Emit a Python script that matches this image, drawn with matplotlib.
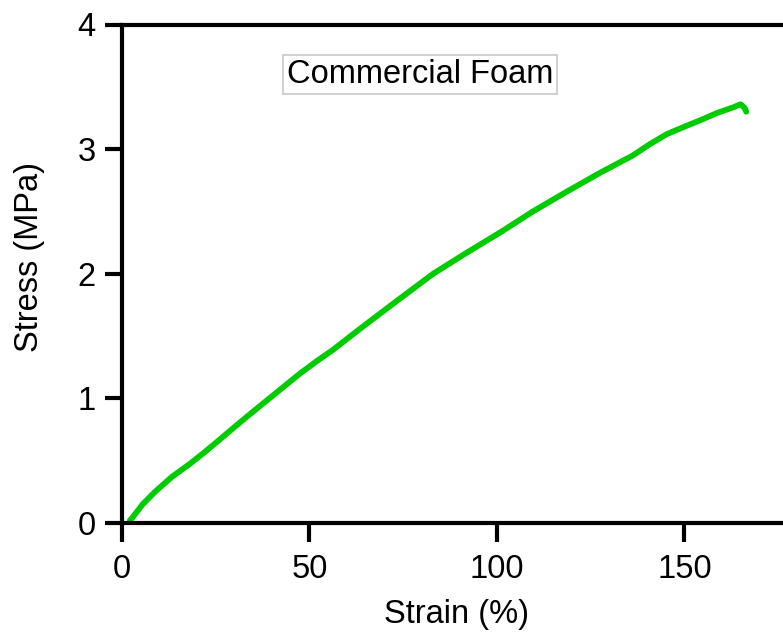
import matplotlib
matplotlib.use("Agg")
import matplotlib.pyplot as plt

plt.rcParams['font.family'] = ['Liberation Sans', 'DejaVu Sans']

# Stress-strain curve of the commercial foam sample
strain = [2.1, 2.7, 5.5, 8.8, 13.3, 17.9, 22.1, 26.1, 29.6, 34.0, 38.7, 43.0,
          47.5, 52.0, 56.3, 62.7, 65.3, 74.1, 83.0, 92.0, 100.8, 109.6, 118.7,
          127.5, 136.3, 140.8, 145.3, 150.0, 154.1, 158.7, 163.0, 165.0,
          166.1, 166.5]
stress = [0.02, 0.04, 0.15, 0.25, 0.37, 0.47, 0.57, 0.67, 0.76, 0.87, 0.985,
          1.09, 1.20, 1.30, 1.39, 1.54, 1.60, 1.80, 2.00, 2.17, 2.33, 2.50,
          2.66, 2.81, 2.95, 3.04, 3.12, 3.18, 3.23, 3.29, 3.335, 3.36, 3.33,
          3.30]

x_ticks = [0, 50, 100, 150]
y_ticks = [0, 1, 2, 3, 4]
title = "Commercial Foam"

fig = plt.figure(figsize=(7.83, 6.37), dpi=100)
ax = fig.add_axes([122 / 783, 114 / 637, 661 / 783, (523 - 24.5) / 637])

ax.plot(strain, stress, color='#00cc00', lw=4.2, solid_capstyle='round',
        solid_joinstyle='round')

ax.set_xlim(0, 176.3)
ax.set_ylim(0, 4)
ax.set_xticks(x_ticks)
ax.set_yticks(y_ticks)

for side in ('left', 'bottom', 'top'):
    ax.spines[side].set_linewidth(3.0)
ax.spines['right'].set_visible(False)

ax.tick_params(axis='x', direction='out', length=14, width=3.0, labelsize=23.5, pad=8)
ax.tick_params(axis='y', direction='out', length=12, width=3.0, labelsize=23.5, pad=7)

ax.set_xlabel("Strain (%)", fontsize=23.5)
ax.set_ylabel("Stress (MPa)", fontsize=23.5)
ax.xaxis.set_label_coords((457 - 122) / 661, -(615 - 523) / 498.5)
ax.yaxis.set_label_coords(-(122 - 30) / 661, (523 - 257) / 498.5)
ax.xaxis.label.set_va('center')
ax.yaxis.label.set_va('center')

ax.text(79.5, 3.6, title, fontsize=23.5, ha='center', va='center',
        bbox=dict(boxstyle='square,pad=0.12', facecolor='white',
                  edgecolor='#c8c8c8', linewidth=1.2))

fig.savefig("out.png", dpi=100)
